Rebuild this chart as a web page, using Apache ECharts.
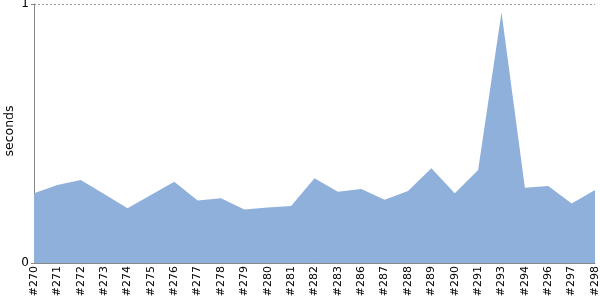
<!DOCTYPE html>
<html>
<head>
<meta charset="utf-8">
<script src="https://cdn.jsdelivr.net/npm/echarts@6/dist/echarts.min.js"></script>
<style>html,body{margin:0;padding:0;background:#fff}#c{width:600px;height:300px}</style>
</head>
<body>
<div id="c"></div>
<script>
var builds = ['#270','#271','#272','#273','#274','#275','#276','#277','#278','#279','#280','#281','#282','#283','#286','#287','#288','#289','#290','#291','#293','#294','#296','#297','#298'];
var seconds = [0.269,0.301,0.320,0.266,0.211,0.263,0.314,0.241,0.250,0.207,0.214,0.220,0.327,0.275,0.286,0.244,0.278,0.366,0.269,0.359,0.968,0.291,0.297,0.230,0.282];
var yTicks = [0, 1];
var yName = 'seconds';

var chart = echarts.init(document.getElementById('c'), null, {renderer: 'canvas'});
chart.setOption({
  animation: false,
  grid: {left: 34, right: 5, top: 4, bottom: 37, containLabel: false, outerBoundsMode: 'none'},
  graphic: [{
    type: 'text',
    x: 10,
    y: 131,
    rotation: Math.PI / 2,
    style: {text: yName, font: '12.5px "DejaVu Sans"', fill: '#000', align: 'center', verticalAlign: 'middle'}
  }],
  xAxis: {
    type: 'category',
    data: builds,
    boundaryGap: false,
    axisLine: {lineStyle: {color: '#888', width: 1}},
    axisTick: {show: false},
    axisLabel: {rotate: 90, margin: 3, fontFamily: 'DejaVu Sans', fontSize: 11, color: '#000', interval: 0}
  },
  yAxis: {
    type: 'value',
    min: yTicks[0],
    max: yTicks[1],
    interval: 1,
    axisLine: {show: true, lineStyle: {color: '#888', width: 1}},
    axisTick: {show: true, length: 3, lineStyle: {color: '#888'}},
    axisLabel: {margin: 5, fontFamily: 'DejaVu Sans', fontSize: 12, color: '#000'},
    splitLine: {show: true, lineStyle: {color: '#999', type: [2, 2], width: 1}}
  },
  series: [{
    type: 'line',
    data: seconds,
    symbol: 'none',
    lineStyle: {width: 0, color: '#8fb0db'},
    itemStyle: {color: '#8fb0db'},
    areaStyle: {color: '#8fb0db', opacity: 1}
  }]
});
</script>
</body>
</html>
